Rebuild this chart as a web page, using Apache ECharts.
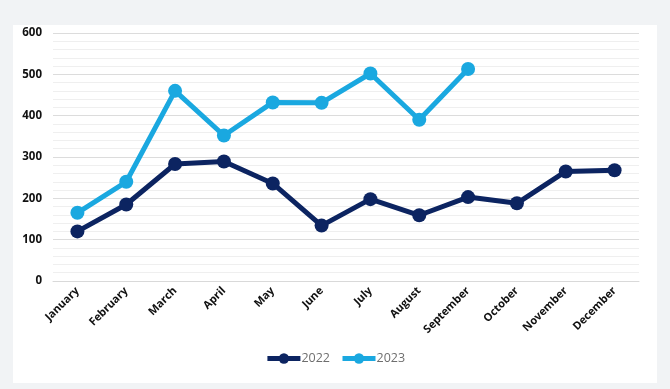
<!DOCTYPE html>
<html><head><meta charset="utf-8">
<script src="https://cdn.jsdelivr.net/npm/echarts@6/dist/echarts.min.js"></script>
<style>
html,body{margin:0;padding:0;background:#f1f3f5;}
#panel{position:absolute;left:13px;top:25px;width:644px;height:358px;background:#fff;}
#c{position:absolute;left:0;top:0;width:670px;height:389px;}
</style></head>
<body><div id="panel"></div><div id="c"></div>
<script>
const categories = ['January','February','March','April','May','June','July','August','September','October','November','December'];
const sales2022 = [120, 185, 283, 289, 236, 134, 198, 159, 203, 188, 265, 268];
const sales2023 = [165, 240, 460, 352, 432, 431, 502, 390, 513, null, null, null];
const yTicks = {min: 0, max: 600, interval: 100};

const chart = echarts.init(document.getElementById('c'));
const lineSeries = (name, data, color) => ({
  name, type: 'line', data, color,
  symbol: 'circle', symbolSize: 14,
  lineStyle: {width: 5, color},
  itemStyle: {color},
  connectNulls: false
});
chart.setOption({
  animation: false,
  backgroundColor: 'transparent',
  grid: {left: 53, right: 31, top: 33, bottom: 108},
  legend: {
    bottom: 19, left: 'center', itemWidth: 33, itemHeight: 13, itemGap: 10,
    lineStyle: {width: 5},
    textStyle: {color: '#6e6e6e', fontSize: 12.5, fontFamily: 'Open Sans', padding: [0, 0, 0, -4]},
    data: ['2022', '2023']
  },
  xAxis: {
    type: 'category', data: categories, boundaryGap: true,
    axisLine: {show: true, lineStyle: {color: '#d9d9d9', width: 1}},
    axisTick: {show: false},
    axisLabel: {rotate: 45, color: '#111', fontSize: 11, fontWeight: 'bold', fontFamily: 'Open Sans', margin: 8, interval: 0}
  },
  yAxis: {
    type: 'value', min: yTicks.min, max: yTicks.max, interval: yTicks.interval,
    axisLine: {show: false}, axisTick: {show: false},
    axisLabel: {color: '#111', fontSize: 11.5, fontWeight: 'bold', fontFamily: 'Open Sans', margin: 11},
    splitLine: {lineStyle: {color: '#dcdcdc', width: 1}},
    minorTick: {show: false, splitNumber: 5},
    minorSplitLine: {show: true, lineStyle: {color: '#efefef', width: 1}}
  },
  series: [
    lineSeries('2022', sales2022, '#0c2461'),
    lineSeries('2023', sales2023, '#1aa8e0')
  ]
});
</script></body></html>
